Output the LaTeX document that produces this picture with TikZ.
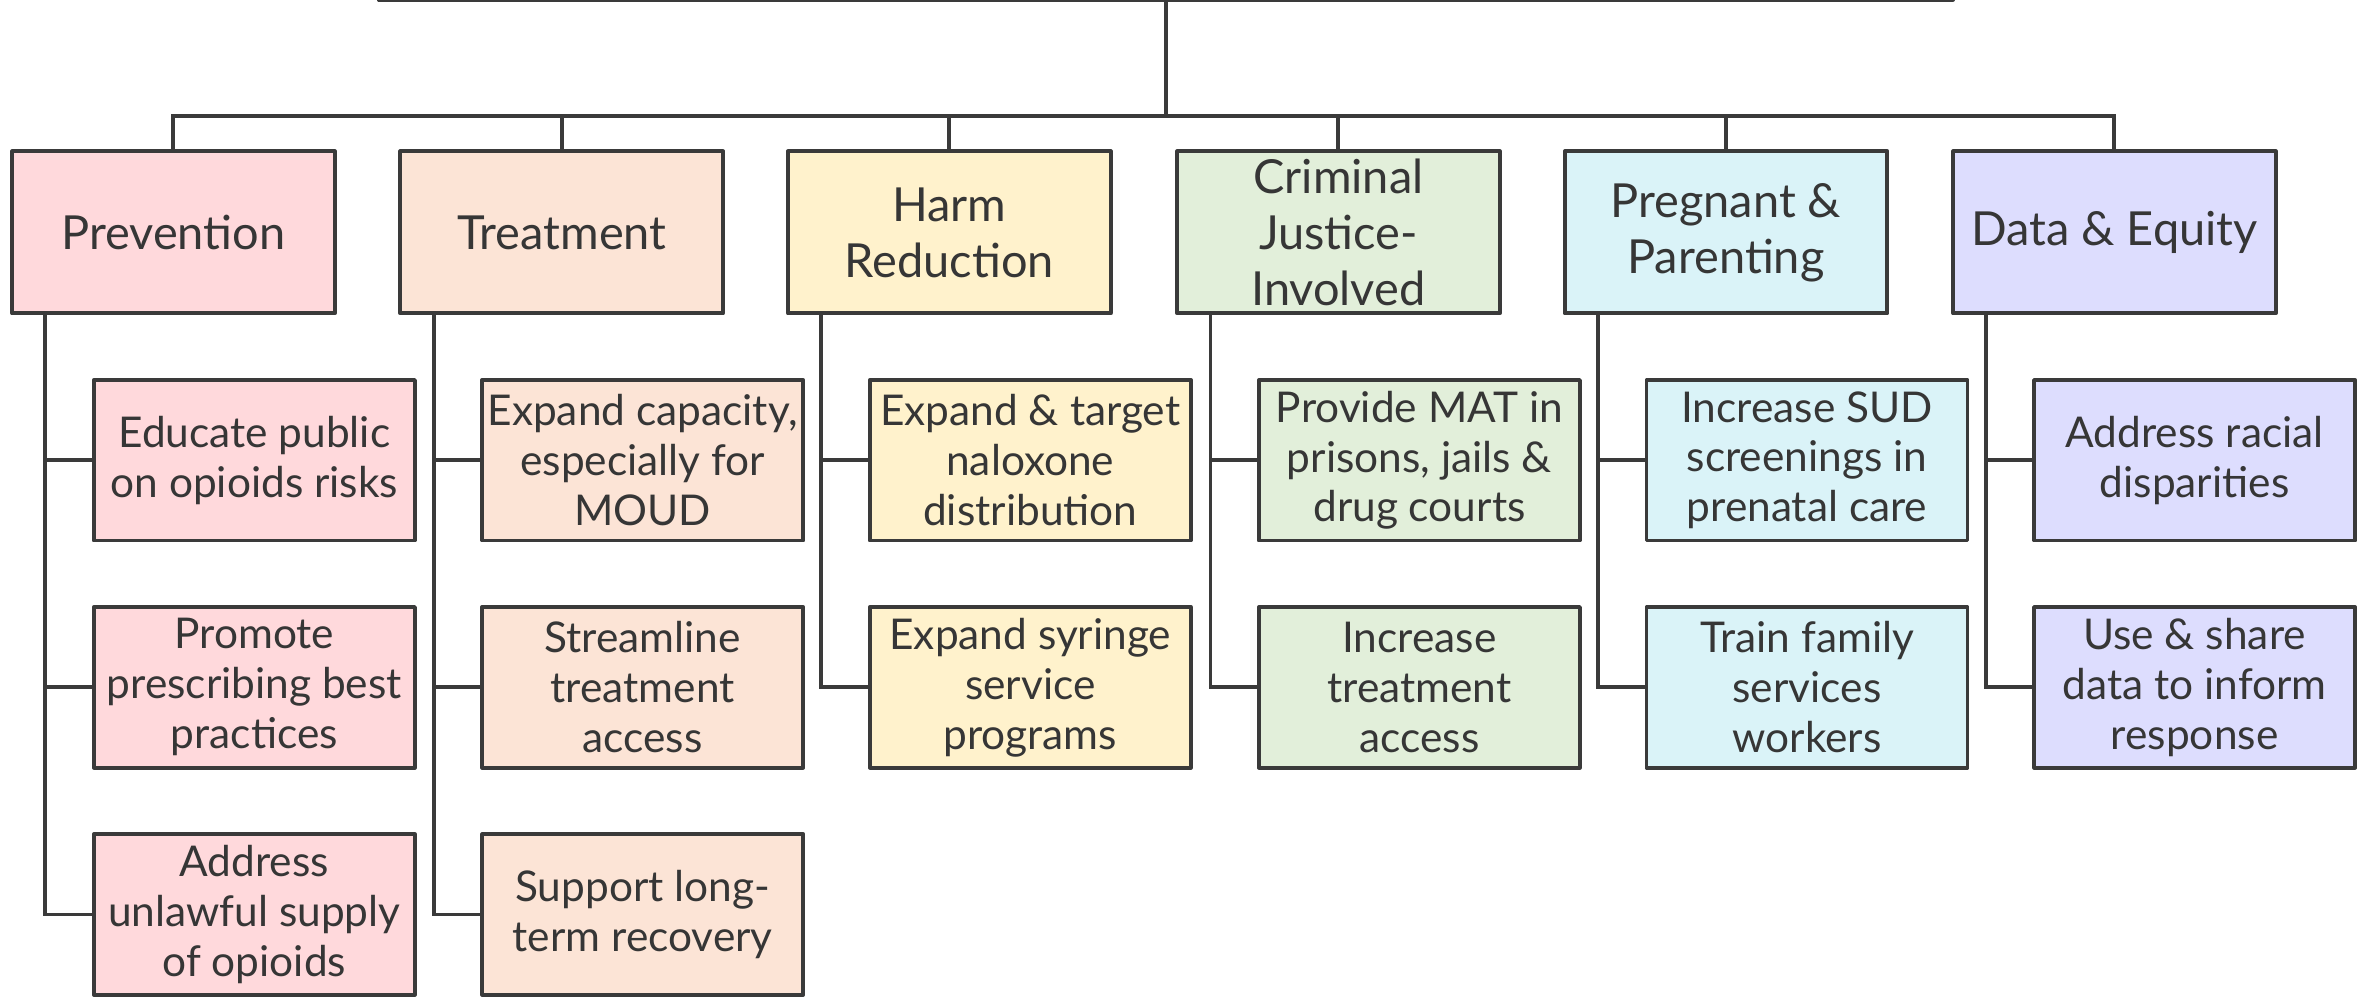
\documentclass[tikz,border=0pt]{standalone}
\usepackage{fontspec}
\setmainfont{Lato}
\definecolor{edge}{HTML}{3A3A3A}
\definecolor{txt}{HTML}{363636}
\definecolor{cPrev}{HTML}{FFD9DC}
\definecolor{cTreat}{HTML}{FCE4D6}
\definecolor{cHarm}{HTML}{FFF2CC}
\definecolor{cCrim}{HTML}{E2EFDA}
\definecolor{cPreg}{HTML}{DAF3F8}
\definecolor{cData}{HTML}{DDDDFE}
\tikzset{
  box/.style={draw=edge, line width=2.6pt, line join=round, text=txt, align=center, inner sep=2pt},
  cat/.style={box, minimum width=213pt, minimum height=107pt, font=\fontsize{31}{37}\selectfont},
  leaf/.style={box, minimum width=212pt, minimum height=106pt, font=\fontsize{28}{33}\selectfont},
  wire/.style={draw=edge, line width=2.6pt}
}
\begin{document}
\begin{tikzpicture}[x=1pt,y=-1pt]
\useasboundingbox (0,0) rectangle (1568,658);
\clip (0,0) rectangle (1568,658);
\fill[white] (0,0) rectangle (1568,658);
\node[box, minimum width=1040pt, minimum height=60pt, anchor=south] (root) at (770,1) {};
% categories
\node[cat, fill=cPrev]  (c1) at (114.5,153.5) {Prevention};
\node[cat, fill=cTreat] (c2) at (371,153.5) {Treatment};
\node[cat, fill=cHarm]  (c3) at (627,153.5) {Harm\\Reduction};
\node[cat, fill=cCrim]  (c4) at (884,153.5) {Criminal\\Justice-\\Involved};
\node[cat, fill=cPreg]  (c5) at (1140,153.5) {Pregnant \&\\Parenting};
\node[cat, fill=cData]  (c6) at (1396.5,153.5) {Data \& Equity};
% leaves
\node[leaf, fill=cPrev] (l11) at (168,304) {Educate public\\on opioids risks};
\node[leaf, fill=cPrev] (l12) at (168,454) {Promote\\prescribing best\\practices};
\node[leaf, fill=cPrev] (l13) at (168,604) {Address\\unlawful supply\\of opioids};
\node[leaf, fill=cTreat] (l21) at (424.5,304) {Expand capacity,\\especially for\\MOUD};
\node[leaf, fill=cTreat] (l22) at (424.5,454) {Streamline\\treatment\\access};
\node[leaf, fill=cTreat] (l23) at (424.5,604) {Support long-\\term recovery};
\node[leaf, fill=cHarm] (l31) at (680.5,304) {Expand \& target\\naloxone\\distribution};
\node[leaf, fill=cHarm] (l32) at (680.5,454) {Expand syringe\\service\\programs};
\node[leaf, fill=cCrim] (l41) at (937.5,304) {Provide MAT in\\prisons, jails \&\\drug courts};
\node[leaf, fill=cCrim] (l42) at (937.5,454) {Increase\\treatment\\access};
\node[leaf, fill=cPreg] (l51) at (1193.5,304) {Increase SUD\\screenings in\\prenatal care};
\node[leaf, fill=cPreg] (l52) at (1193.5,454) {Train family\\services\\workers};
\node[leaf, fill=cData] (l61) at (1449.5,304) {Address racial\\disparities};
\node[leaf, fill=cData] (l62) at (1449.5,454) {Use \& share\\data to inform\\response};
% bus
\foreach \c in {c1,c2,c3,c4,c5,c6}{
  \draw[wire] (\c.north) -- ++(0,-22) -| (root.south);
}
% branches
\foreach \c/\l in {c1/l11,c1/l12,c1/l13,c2/l21,c2/l22,c2/l23,c3/l31,c3/l32,c4/l41,c4/l42,c5/l51,c5/l52,c6/l61,c6/l62}{
  \draw[wire] ([xshift=-84.5pt]\c.south) |- (\l.west);
}
\end{tikzpicture}
\end{document}
